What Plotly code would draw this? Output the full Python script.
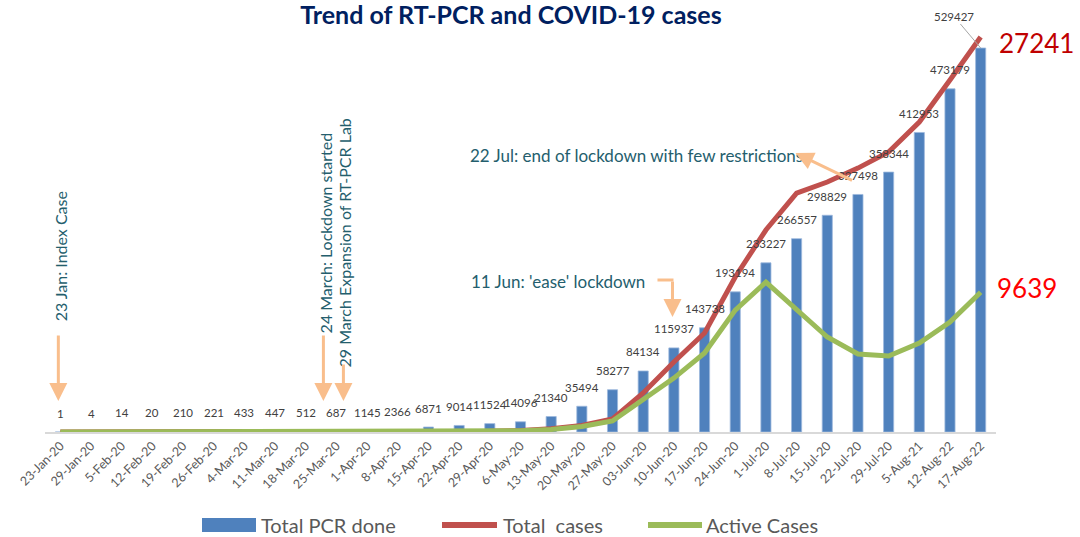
import plotly.graph_objects as go

categories = ["23-Jan-20", "29-Jan-20", "5-Feb-20", "12-Feb-20", "19-Feb-20", "26-Feb-20",
              "4-Mar-20", "11-Mar-20", "18-Mar-20", "25-Mar-20", "1-Apr-20", "8-Apr-20",
              "15-Apr-20", "22-Apr-20", "29-Apr-20", "6-May-20", "13-May-20", "20-May-20",
              "27-May-20", "03-Jun-20", "10-Jun-20", "17-Jun-20", "24-Jun-20", "1-Jul-20",
              "8-Jul-20", "15-Jul-20", "22-Jul-20", "29-Jul-20", "5-Aug-21", "12-Aug-22",
              "17-Aug-22"]

total_pcr = [1, 4, 14, 20, 210, 221, 433, 447, 512, 687, 1145, 2366, 6871, 9014, 11524,
             14096, 21340, 35494, 58277, 84134, 115937, 143738, 193194, 233227, 266557,
             298829, 327498, 358344, 412953, 473179, 529427]

total_cases = [1, 1, 1, 1, 1, 1, 1, 1, 2, 3, 5, 9, 16, 45, 57,
               110, 220, 450, 900, 2690, 4830, 6830, 10690, 13930, 16480,
               17240, 18200, 19310, 21380, 24270, 27241]

active_cases = [1, 1, 0, 0, 0, 0, 0, 0, 1, 2, 4, 8, 15, 42, 50,
                80, 180, 380, 760, 2200, 3720, 5450, 8410, 10340, 8410,
                6550, 5380, 5240, 6140, 7590, 9639]

series_names = ["Total PCR done", "Total  cases", "Active Cases"]
BAR_C, RED_C, GREEN_C = "#4F81BD", "#C0504D", "#9BBB59"

# layout geometry (pixels)
W, H = 1080, 537
M_L, M_R, M_T, M_B = 45, 84, 30, 105
PW = W - M_L - M_R
PH = H - M_T - M_B
R1 = 554244
R2 = 27724

def py(p):
    """pixel y -> paper y"""
    return (H - M_B - p) / PH

def pxp(p):
    """pixel x -> paper x"""
    return (p - M_L) / PW

def px(p):
    """pixel x -> category index"""
    return (p - 60) / 30.67

FONT = "Lato"
TEAL = "#245E6D"
ORANGE = "#F9BE8C"

fig = go.Figure()
fig.add_trace(go.Bar(
    x=categories, y=total_pcr, name=series_names[0],
    marker=dict(color=BAR_C, line=dict(color="#9DB9DD", width=0.8)),
    width=0.33, yaxis="y", showlegend=False))
fig.add_trace(go.Scatter(
    x=categories, y=total_cases, name=series_names[1], mode="lines",
    line=dict(color=RED_C, width=5), yaxis="y2", showlegend=False))
fig.add_trace(go.Scatter(
    x=categories, y=active_cases, name=series_names[2], mode="lines",
    line=dict(color=GREEN_C, width=5), yaxis="y2", showlegend=False))

annotations = []
lab_font = dict(family=FONT, size=11.5, color="#404040")
for i, (c, v) in enumerate(zip(categories, total_pcr)):
    if i == len(total_pcr) - 1:
        annotations.append(dict(x=c, y=v, xref="x", yref="y", text=str(v),
                                showarrow=True, arrowhead=0, arrowwidth=1,
                                arrowcolor="#A6A6A6", ax=-27, ay=-32, font=lab_font))
    else:
        annotations.append(dict(x=c, y=v, xref="x", yref="y", text=str(v),
                                showarrow=False, yshift=19, font=lab_font))

# end values of the lines
annotations.append(dict(x=categories[-1], y=total_cases[-1], xref="x", yref="y2",
                        text=str(total_cases[-1]), showarrow=False, xanchor="left",
                        xshift=16, yshift=-6,
                        font=dict(family=FONT, size=26, color="#C00000")))
annotations.append(dict(x=categories[-1], y=active_cases[-1], xref="x", yref="y2",
                        text=str(active_cases[-1]), showarrow=False, xanchor="left",
                        xshift=14, yshift=4,
                        font=dict(family=FONT, size=26, color="#FF0000")))

# event labels
ev_font = dict(family=FONT, size=17, color=TEAL)
ev_font_v = dict(family=FONT, size=16, color=TEAL)
annotations += [
    dict(x=px(60), y=py(256), xref="x", yref="paper", text="23 Jan: Index Case",
         textangle=-90, showarrow=False, font=ev_font_v),
    dict(x=px(325), y=py(233), xref="x", yref="paper", text="24 March: Lockdown started",
         textangle=-90, showarrow=False, font=ev_font_v),
    dict(x=px(344), y=py(243), xref="x", yref="paper", text="29 March Expansion of RT-PCR Lab",
         textangle=-90, showarrow=False, font=ev_font_v),
    dict(x=px(558), y=py(281), xref="x", yref="paper", text="11 Jun: 'ease' lockdown",
         showarrow=False, font=ev_font),
    dict(x=px(636), y=py(143), xref="x", yref="paper",
         text="22 Jul: end of lockdown with few restrictions",
         showarrow=False, font=ev_font),
]
# arrows
arrow_common = dict(text="", showarrow=True, arrowhead=2, arrowsize=1.2, arrowwidth=3,
                    arrowcolor=ORANGE, xref="x", yref="paper", standoff=0)
annotations += [
    dict(x=px(58), y=py(401), ax=0, ay=-67, **arrow_common),
    dict(x=px(323), y=py(401), ax=0, ay=-67, **arrow_common),
    dict(x=px(343), y=py(401), ax=0, ay=-38, **arrow_common),
    dict(x=px(672), y=py(317), ax=0, ay=-37, **arrow_common),
    dict(x=px(795), y=py(153), ax=58, ay=28, **arrow_common),
]

shapes = [dict(type="line", xref="x", yref="paper", x0=px(657), x1=px(673),
               y0=py(280), y1=py(280), line=dict(color=ORANGE, width=3))]

# legend (drawn to match the wide swatches of the original)
LEG_Y = 525
leg_font = dict(family=FONT, size=20, color="#595959")
shapes += [
    dict(type="rect", xref="paper", yref="paper", x0=pxp(202), x1=pxp(256),
         y0=py(532), y1=py(518), fillcolor=BAR_C, line=dict(width=0)),
    dict(type="line", xref="paper", yref="paper", x0=pxp(442), x1=pxp(497),
         y0=py(LEG_Y), y1=py(LEG_Y), line=dict(color=RED_C, width=6)),
    dict(type="line", xref="paper", yref="paper", x0=pxp(648), x1=pxp(702),
         y0=py(LEG_Y), y1=py(LEG_Y), line=dict(color=GREEN_C, width=6)),
]
for name, x0 in zip(series_names, [259, 501, 704]):
    annotations.append(dict(x=pxp(x0), y=py(LEG_Y), xref="paper", yref="paper",
                            text=name, showarrow=False, xanchor="left", yanchor="middle",
                            font=leg_font))

fig.update_layout(
    width=W, height=H,
    margin=dict(l=M_L, r=M_R, t=M_T, b=M_B, autoexpand=False),
    paper_bgcolor="white", plot_bgcolor="white",
    title=dict(text="<b>Trend of RT-PCR and COVID-19 cases</b>", x=511 / W, xref="container",
               xanchor="center", y=1 - 15 / H, yanchor="middle",
               font=dict(family=FONT, size=25, color="#002060")),
    xaxis=dict(type="category", range=[-0.5, len(categories) - 0.5], showline=True,
               linecolor="#D9D9D9", linewidth=1.5, ticks="", showgrid=False,
               tickangle=-45, automargin=False,
               tickfont=dict(family=FONT, size=12.5, color="#595959")),
    yaxis=dict(range=[0, R1], visible=False, showgrid=False),
    yaxis2=dict(range=[0, R2], visible=False, showgrid=False, overlaying="y"),
    showlegend=False,
    annotations=annotations, shapes=shapes,
    bargap=0.6,
)

fig.write_html("out.html", config={"displayModeBar": False},
               post_script="document.body.style.margin='0';document.body.style.overflow='hidden';")
